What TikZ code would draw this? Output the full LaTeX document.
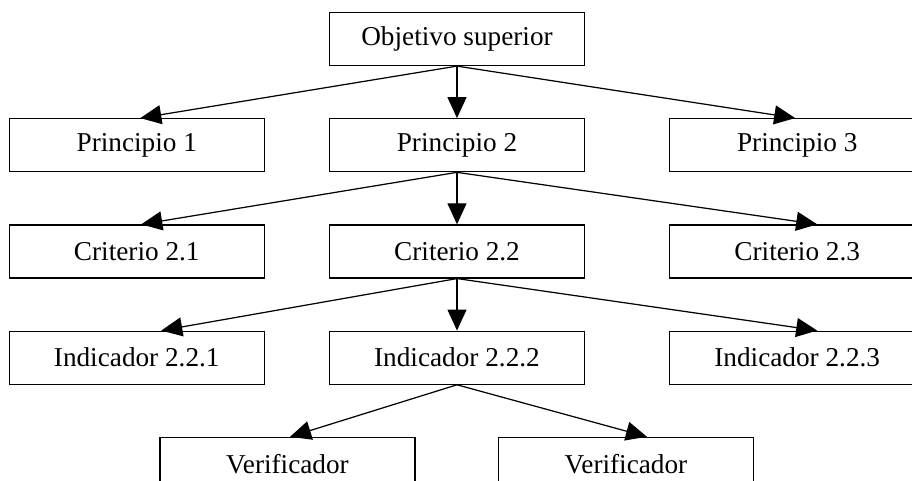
\documentclass[tikz,border=0pt]{standalone}
\usepackage{fontspec}
\setmainfont{Liberation Serif}
\usetikzlibrary{positioning, arrows.meta}

\begin{document}
\begin{tikzpicture}[node distance=1.04cm, every node/.style={draw, rectangle,
						minimum width=5.1cm, minimum height=1.06cm, inner sep=0pt,
						line width=0.7pt, font=\fontsize{15.5pt}{18pt}\selectfont},
						link/.style={-{Triangle[length=0.42cm, width=0.38cm]}, line width=0.7pt}]

			\useasboundingbox (-9.14,0.78) rectangle (9.1,-8.84);

			% Top of the tree
			\node (obj) at (0,0) {Objetivo superior};

			% Principles
			\node (p2) [below=of obj] {Principio 2};
			\node (p1) [left=1.28cm of p2] {Principio 1};
			\node (p3) [right=1.68cm of p2] {Principio 3};

			% Criteria
			\node (c22) [below=of p2] {Criterio 2.2};
			\node (c21) [left=1.28cm of c22] {Criterio 2.1};
			\node (c23) [right=1.68cm of c22] {Criterio 2.3};

			% Indicators
			\node (i222) [below=of c22] {Indicador 2.2.2};
			\node (i221) [left=1.28cm of i222] {Indicador 2.2.1};
			\node (i223) [right=1.68cm of i222] {Indicador 2.2.3};

			% Verifiers
			\node (v1) [below=of i222, xshift=-3.39cm] {Verificador};
			\node (v2) [below=of i222, xshift=3.38cm] {Verificador};

			% Arrows between levels
			\draw[link] (obj.south) -- ([xshift=0.07cm]p1.north);
			\draw[link] (obj.south) -- (p2.north);
			\draw[link] (obj.south) -- ([xshift=-0.04cm]p3.north);

			\draw[link] (p2.south) -- ([xshift=0.09cm]c21.north);
			\draw[link] (p2.south) -- (c22.north);
			\draw[link] (p2.south) -- ([xshift=0.4cm]c23.north);

			\draw[link] (c22.south) -- ([xshift=0.49cm]i221.north);
			\draw[link] (c22.south) -- (i222.north);
			\draw[link] (c22.south) -- ([xshift=0.4cm]i223.north);

			\draw[link] (i222.south) -- ([xshift=0.05cm]v1.north);
			\draw[link] (i222.south) -- ([xshift=0.42cm]v2.north);

		\end{tikzpicture}
\end{document}
